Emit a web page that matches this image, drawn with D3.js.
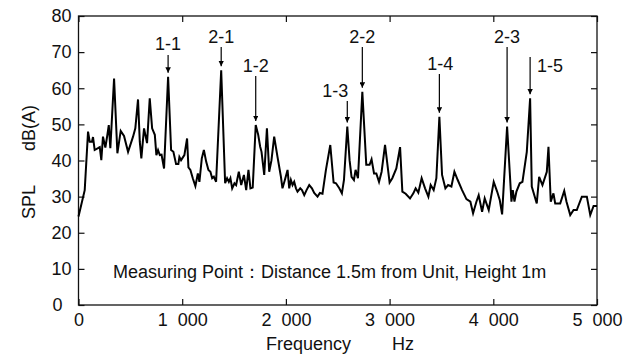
<!DOCTYPE html>
<html>
<head>
<meta charset="utf-8">
<script src="https://cdn.jsdelivr.net/npm/d3@7"></script>
<style>
  body { margin: 0; background: #fff; }
  text { font-family: "Liberation Sans", Arial, sans-serif; fill: #111; }
</style>
</head>
<body>
<div id="chart"></div>
<script>
// spectrum
const freqHz = [0, 60, 92, 108, 130, 140, 156, 188, 205, 220, 236, 259, 278, 292, 307, 343, 375, 407, 439, 478,
  526, 548, 574, 591, 606, 632, 661, 687, 710, 736, 751, 767, 784, 801, 825, 864, 893, 915, 941, 963,
  973, 989, 1021, 1047, 1060, 1079, 1102, 1127, 1151, 1166, 1189, 1209, 1231, 1253, 1272, 1289, 1305, 1327, 1376, 1414,
  1433, 1450, 1465, 1482, 1504, 1520, 1546, 1569, 1595, 1617, 1639, 1658, 1680, 1709, 1733, 1752, 1765, 1791, 1817, 1839,
  1861, 1887, 1919, 1952, 1967, 1990, 2016, 2032, 2048, 2064, 2080, 2097, 2112, 2138, 2155, 2177, 2199, 2225, 2251, 2273,
  2305, 2328, 2353, 2386, 2428, 2460, 2483, 2515, 2540, 2560, 2592, 2614, 2633, 2656, 2672, 2695, 2737, 2775, 2807, 2826,
  2850, 2872, 2898, 2923, 2956, 3000, 3026, 3065, 3101, 3123, 3155, 3197, 3229, 3251, 3277, 3309, 3342, 3374, 3396, 3425,
  3451, 3480, 3506, 3538, 3564, 3596, 3625, 3657, 3699, 3741, 3779, 3805, 3837, 3859, 3892, 3917, 3956, 4004, 4037, 4062,
  4085, 4133, 4175, 4188, 4204, 4223, 4255, 4281, 4323, 4355, 4371, 4419, 4442, 4474, 4516, 4532, 4554, 4580, 4597, 4645,
  4684, 4706, 4742, 4774, 4805, 4854, 4902, 4935, 4967, 5000];
const splDb = [24.5, 31.8, 48, 45.2, 45.2, 46.5, 42.9, 43.4, 43.7, 40.1, 46.6, 43.6, 47, 49.8, 43.4, 62.7, 42, 48.2, 46.8, 42.4,
  46.6, 48.9, 56.9, 45.2, 40.6, 48.9, 44.8, 57.2, 48.9, 47.1, 41.5, 42.9, 41.5, 41.6, 37.8, 63.2, 42.9, 42.4, 39, 39,
  41, 40.1, 41.5, 46.1, 38.1, 37.4, 35.1, 32.9, 36.4, 34.1, 40.6, 42.9, 39.7, 37.4, 36.9, 35.1, 35.5, 34.1, 65, 33.7,
  35.1, 34.1, 35.1, 32.3, 33.7, 33.2, 36.9, 33.2, 36, 31.8, 37.4, 32.3, 32.5, 49.8, 47.1, 43.8, 42.4, 36, 48.9, 36.9,
  40.1, 46.6, 41, 35.5, 32.3, 34.6, 37.4, 32.3, 34.6, 33.2, 34.1, 32.3, 31.4, 32.3, 31.8, 30.4, 31.8, 33.2, 32.3, 31,
  30, 31, 30.8, 37.4, 44.3, 33.9, 33.7, 32.3, 30.9, 34.6, 49.4, 40.1, 35.5, 34.6, 37.4, 35.1, 59, 38.8, 38.8, 40.3,
  36.4, 36.4, 34.1, 36.9, 44.3, 33.9, 35.1, 37.8, 43.7, 31.4, 30.8, 29.5, 30.9, 32.3, 31.1, 35.1, 32.3, 30, 33.2, 31.8,
  35.1, 52.1, 36, 32.3, 33.2, 32.8, 36.9, 34.6, 31.8, 29.3, 28.6, 25.4, 28.6, 30.4, 25.8, 29.5, 26.3, 34.1, 31.4, 29.1,
  25.1, 49.4, 28.6, 31.8, 28.6, 31.4, 33.7, 34.1, 42.4, 57.2, 32.8, 28.1, 35.5, 33.2, 36.9, 43.8, 28.6, 30.9, 28.1, 28.1,
  31.6, 28.6, 24.9, 26.3, 26.3, 30, 30, 24.9, 27.4, 27.4];

const xTicks = [0, 1000, 2000, 3000, 4000, 5000];
const yTicks = [0, 10, 20, 30, 40, 50, 60, 70, 80];

// marked peaks
const peakNames = ["1-1", "2-1", "1-2", "1-3", "2-2", "1-4", "2-3", "1-5"];
const peakHz = [864, 1376, 1709, 2592, 2737, 3480, 4133, 4355];
const peakDb = [63.2, 65, 49.8, 49.4, 59, 52.1, 49.4, 57.2];

const noteText = "Measuring Point\uFF1ADistance 1.5m from Unit, Height 1m";

const width = 636, height = 358;
const margin = { top: 16, right: 39, bottom: 53, left: 78.5 };

const svg = d3.select("#chart").append("svg")
  .attr("width", width)
  .attr("height", height);

const x = d3.scaleLinear().domain([0, 5000]).range([margin.left, width - margin.right]);
const y = d3.scaleLinear().domain([0, 80]).range([height - margin.bottom, margin.top]);

const fmtX = d => d3.format(",")(d).replace(",", " ");

// axes, ticks pointing inward
const gx = svg.append("g")
  .attr("transform", "translate(0," + y(0) + ")")
  .call(d3.axisBottom(x).tickValues(xTicks).tickSize(-6).tickPadding(8).tickFormat(fmtX));
gx.selectAll("text").style("font-size", "18px").attr("word-spacing", "5px");

const gy = svg.append("g")
  .attr("transform", "translate(" + x(0) + ",0)")
  .call(d3.axisLeft(y).tickValues(yTicks).tickSize(-6).tickPadding(7));
gy.selectAll("text").style("font-size", "18px")
  .attr("dx", d => d === 0 ? -9 : 0);

svg.append("g")
  .attr("transform", "translate(" + x(5000) + ",0)")
  .call(d3.axisRight(y).tickValues(yTicks).tickSize(-6).tickFormat(""));

svg.append("g")
  .attr("transform", "translate(0," + y(80) + ")")
  .call(d3.axisTop(x).tickValues(xTicks).tickSize(-6).tickFormat(""));

svg.selectAll(".domain").remove();
svg.selectAll(".tick line").attr("stroke", "#111").attr("stroke-width", 1.2);

svg.append("rect")
  .attr("x", x(0)).attr("y", y(80))
  .attr("width", x(5000) - x(0)).attr("height", y(0) - y(80))
  .attr("fill", "none").attr("stroke", "#111").attr("stroke-width", 1.3);

// spectrum line
const pts = freqHz.map((f, i) => [f, splDb[i]]);
svg.append("path")
  .datum(pts)
  .attr("fill", "none")
  .attr("stroke", "#000")
  .attr("stroke-width", 2)
  .attr("stroke-linejoin", "miter")
  .attr("d", d3.line().x(d => x(d[0])).y(d => y(d[1])));

// callouts: label baseline, label dx, arrow start (px)
const callout = [
  { base: 50, dx: 0, top: 55 },
  { base: 43, dx: 0, top: 47 },
  { base: 72, dx: 0, top: 76 },
  { base: 97, dx: -12, top: 101 },
  { base: 43, dx: 0, top: 47 },
  { base: 70, dx: 1, top: 74 },
  { base: 43, dx: 0, top: 47 },
  { base: 72, dx: 20, top: 57 }
];

const defs = svg.append("defs");
defs.append("marker")
  .attr("id", "ah")
  .attr("viewBox", "0 0 10 10")
  .attr("refX", 10).attr("refY", 5)
  .attr("markerWidth", 5.5).attr("markerHeight", 5.5)
  .attr("markerUnits", "userSpaceOnUse")
  .attr("orient", "auto")
  .append("path").attr("d", "M0,0 L10,5 L0,10 Z").attr("fill", "#000");

peakNames.forEach((name, i) => {
  const px = x(peakHz[i]);
  const c = callout[i];
  svg.append("text")
    .attr("x", px + c.dx).attr("y", c.base)
    .attr("text-anchor", "middle")
    .style("font-size", "18px")
    .text(name);
  svg.append("line")
    .attr("x1", px).attr("x2", px)
    .attr("y1", c.top).attr("y2", y(peakDb[i]) - 4)
    .attr("stroke", "#000").attr("stroke-width", 1.2)
    .attr("marker-end", "url(#ah)");
});

// note
svg.append("text")
  .attr("x", 113).attr("y", 278)
  .style("font-size", "18px")
  .text(noteText);

// axis titles
svg.append("text")
  .attr("x", 266).attr("y", 350)
  .style("font-size", "18px")
  .text("Frequency");
svg.append("text")
  .attr("x", 392).attr("y", 350)
  .style("font-size", "18px")
  .text("Hz");

svg.append("text")
  .attr("transform", "translate(35,202) rotate(-90)")
  .attr("text-anchor", "middle")
  .style("font-size", "18px")
  .text("SPL");
svg.append("text")
  .attr("transform", "translate(35,128) rotate(-90)")
  .attr("text-anchor", "middle")
  .style("font-size", "18px")
  .text("dB(A)");
</script>
</body>
</html>
